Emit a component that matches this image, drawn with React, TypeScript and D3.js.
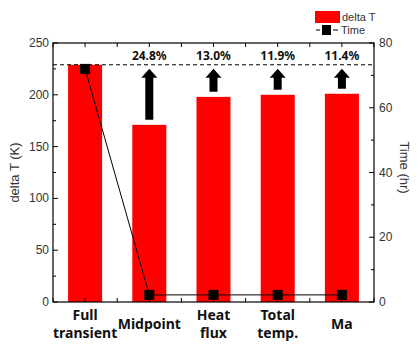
import React from "react";
import * as d3 from "d3";

const categories = ["Full\ntransient", "Midpoint", "Heat\nflux", "Total\ntemp.", "Ma"];
const deltaT = [229, 171, 198, 200, 201];
const timeHr = [72, 2.2, 2.2, 2.2, 2.2];
const percentLabels = ["", "24.8%", "13.0%", "11.9%", "11.4%"];
const leftTicks = [0, 50, 100, 150, 200, 250];
const rightTicks = [0, 20, 40, 60, 80];
const refLine = 229;

const W = 420, H = 353;
const m = { l: 53, r: 374, t: 43, b: 302 };

export default function App() {
  const x = d3.scaleBand<string>().domain(categories).range([m.l, m.r]).paddingInner(0.47).paddingOuter(0.235);
  const xc = (c: string) => (x(c) as number) + x.bandwidth() / 2;
  const step = (m.r - m.l) / categories.length;
  const yL = d3.scaleLinear().domain([0, 250]).range([m.b, m.t]);
  const yR = d3.scaleLinear().domain([0, 80]).range([m.b, m.t]);
  const line = d3.line<number>().x((_, i) => xc(categories[i])).y((d) => yR(d));
  const tickFont = "Liberation Sans, Arial, sans-serif";
  const labFont = "Noto Sans, DejaVu Sans, sans-serif";

  const xTicks: number[] = [];
  for (let i = 0; i <= categories.length * 2; i++) xTicks.push(m.l + (i * step) / 2);
  const leftMinor = d3.range(25, 250, 50);
  const rightMinor = d3.range(10, 80, 20);

  return (
    <svg width={W} height={H} style={{ position: "absolute", left: 0, top: 0, background: "#fff" }}>
      {categories.map((c, i) => (
        <rect key={c} x={x(c)} y={yL(deltaT[i])} width={x.bandwidth()} height={m.b - yL(deltaT[i])} fill="#ff0000" />
      ))}
      {/* dashed reference */}
      <line x1={m.l} x2={m.r} y1={yL(refLine)} y2={yL(refLine)} stroke="#000" strokeWidth={1} strokeDasharray="4,3" />
      {/* arrows */}
      {categories.map((c, i) => {
        if (i === 0) return null;
        const cx = xc(c);
        const base = yL(deltaT[i]) - 5;
        const tip = yL(refLine) + 4;
        const headH = 9;
        const sw = 4, hw = 8;
        const p = `M${cx - sw},${base} L${cx - sw},${tip + headH} L${cx - hw},${tip + headH} L${cx},${tip} L${cx + hw},${tip + headH} L${cx + sw},${tip + headH} L${cx + sw},${base} Z`;
        return <path key={c} d={p} fill="#000" />;
      })}
      {/* percent labels */}
      {categories.map((c, i) => (
        <text key={c} x={xc(c)} y={60} textAnchor="middle" fontFamily={labFont} fontWeight="bold" fontSize={12} fill="#111">
          {percentLabels[i]}
        </text>
      ))}
      {/* time line */}
      <path d={line(timeHr) || ""} fill="none" stroke="#000" strokeWidth={1} />
      {timeHr.map((t, i) => (
        <rect key={i} x={xc(categories[i]) - 5} y={yR(t) - 5} width={10} height={10} fill="#000" />
      ))}
      {/* frame */}
      <rect x={m.l} y={m.t} width={m.r - m.l} height={m.b - m.t} fill="none" stroke="#000" strokeWidth={1.2} />
      {/* x ticks top and bottom */}
      {xTicks.map((t, i) => (
        <g key={i}>
          <line x1={t} x2={t} y1={m.b} y2={m.b - 4} stroke="#000" />
          <line x1={t} x2={t} y1={m.t} y2={m.t + 4} stroke="#000" />
        </g>
      ))}
      {/* left axis */}
      {leftTicks.map((t) => (
        <g key={t}>
          <line x1={m.l} x2={m.l + 5} y1={yL(t)} y2={yL(t)} stroke="#000" />
          <text x={m.l - 4} y={yL(t) + 4} textAnchor="end" fontFamily={tickFont} fontSize={12} fill="#333">{t}</text>
        </g>
      ))}
      {leftMinor.map((t) => (
        <line key={t} x1={m.l} x2={m.l + 3} y1={yL(t)} y2={yL(t)} stroke="#000" />
      ))}
      {/* right axis */}
      {rightTicks.map((t) => (
        <g key={t}>
          <line x1={m.r} x2={m.r - 5} y1={yR(t)} y2={yR(t)} stroke="#000" />
          <text x={m.r + 5} y={yR(t) + 4} textAnchor="start" fontFamily={tickFont} fontSize={12} fill="#333">{t}</text>
        </g>
      ))}
      {rightMinor.map((t) => (
        <line key={t} x1={m.r} x2={m.r - 3} y1={yR(t)} y2={yR(t)} stroke="#000" />
      ))}
      {/* axis titles */}
      <text transform={`translate(19,${(m.t + m.b) / 2}) rotate(-90)`} textAnchor="middle" fontFamily={tickFont} fontSize={13} fill="#333">delta T (K)</text>
      <text transform={`translate(400,${(m.t + m.b) / 2 - 5}) rotate(90)`} textAnchor="middle" fontFamily={tickFont} fontSize={13} fill="#333">Time (hr)</text>
      {/* x labels */}
      {categories.map((c) => {
        const lines = c.split("\n");
        const y0 = lines.length === 1 ? 329 : 320;
        return (
          <text key={c} x={xc(c)} textAnchor="middle" fontFamily={labFont} fontWeight="bold" fontSize={14} fill="#111">
            {lines.map((l, j) => (
              <tspan key={j} x={xc(c)} y={y0 + j * 18}>{l}</tspan>
            ))}
          </text>
        );
      })}
      {/* legend */}
      <rect x={315} y={11} width={25} height={12} fill="#ff0000" />
      <text x={342} y={21} fontFamily={tickFont} fontSize={11} fill="#333">delta T</text>
      <line x1={316} x2={320} y1={30} y2={30} stroke="#000" />
      <rect x={322} y={25} width={9} height={10} fill="#000" />
      <line x1={333} x2={338} y1={30} y2={30} stroke="#000" />
      <text x={341} y={34} fontFamily={tickFont} fontSize={11} fill="#333">Time</text>
    </svg>
  );
}
